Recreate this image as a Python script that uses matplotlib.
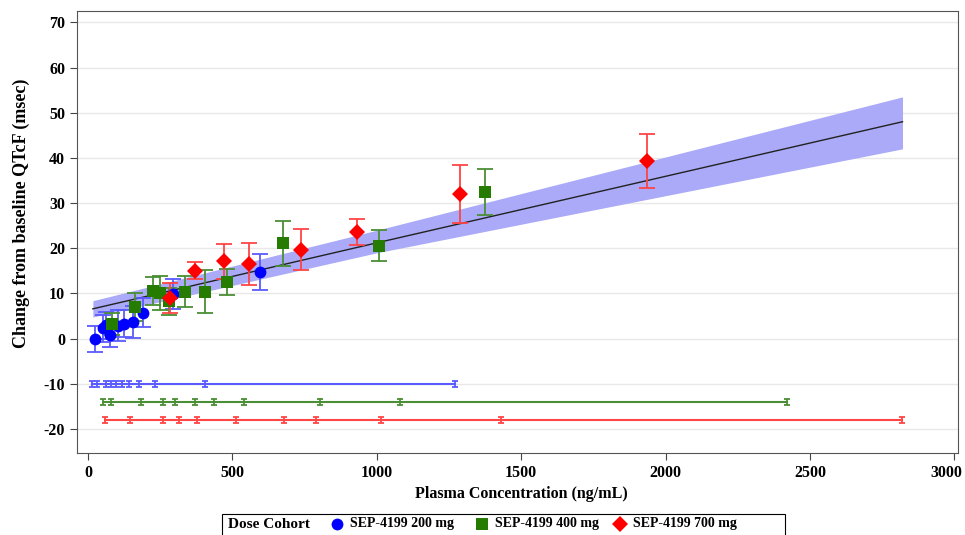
import numpy as np
import matplotlib.pyplot as plt
import matplotlib.transforms as mtransforms
from matplotlib.lines import Line2D
from matplotlib.patches import Rectangle

plt.rcParams['font.family'] = ['Liberation Serif', 'DejaVu Serif']
plt.rcParams['font.weight'] = 'bold'
plt.rcParams['axes.unicode_minus'] = False

# binned means (conc, change) with half-width of 90% CI
conc_200 = [24, 52, 62, 76, 105, 126, 155, 189, 293, 595]
qtcf_200 = [-0.1, 2.3, 3.0, 0.9, 2.9, 3.3, 3.7, 5.7, 9.9, 14.7]
err_200 = [2.8, 3.0, 3.0, 2.8, 3.5, 3.0, 3.5, 3.2, 3.3, 4.0]

conc_400 = [84, 163, 226, 248, 281, 336, 405, 481, 674, 1008, 1374]
qtcf_400 = [3.2, 7.0, 10.6, 10.1, 8.3, 10.4, 10.4, 12.6, 21.1, 20.6, 32.5]
err_400 = [2.5, 3.0, 3.1, 3.7, 3.0, 3.5, 4.8, 2.9, 5.0, 3.5, 5.1]

conc_700 = [284, 370, 472, 558, 739, 933, 1289, 1935]
qtcf_700 = [9.0, 15.0, 17.1, 16.5, 19.7, 23.6, 32.1, 39.3]
err_700 = [3.4, 1.9, 3.8, 4.6, 4.5, 2.8, 6.4, 5.9]

# concentration bin boundaries per cohort
bins_200 = [15, 31, 63, 80, 98, 117, 141, 175, 233, 405, 1270]
bins_400 = [51, 78, 185, 258, 303, 370, 436, 541, 803, 1080, 2420]
bins_700 = [59, 145, 260, 315, 379, 514, 680, 788, 1013, 1429, 2820]
bin_levels = [-10, -14, -18]

# linear exposure-response fit and its confidence band
fit_conc = [17, 1000, 2820]
fit_mid = [6.6, 21.2, 48.0]
fit_lo = [4.8, 19.0, 42.0]
fit_hi = [8.4, 24.0, 53.5]

labels = ["SEP-4199 200 mg", "SEP-4199 400 mg", "SEP-4199 700 mg"]
colors = ["#0000ff", "#267c00", "#ff0000"]
bar_colors = ["#5a5aff", "#4a8f35", "#ff4545"]
markers = ["o", "s", "D"]
msizes = [8.5, 8, 8.5]

fig = plt.figure(figsize=(9.65, 5.35), dpi=100)
ax = fig.add_axes([0.0798, 0.1533, 0.9129, 0.8261])

ax.fill_between(fit_conc, fit_lo, fit_hi, color="#aaaaf8", lw=0, zorder=1)
ax.plot(fit_conc, fit_mid, color="#222222", lw=1, zorder=2)

groups = [
    (conc_200, qtcf_200, err_200),
    (conc_400, qtcf_400, err_400),
    (conc_700, qtcf_700, err_700),
]
for (x, y, e), c, bc, m, ms in zip(groups, colors, bar_colors, markers, msizes):
    ax.errorbar(x, y, yerr=e, fmt="none", ecolor=bc, elinewidth=1.3,
                capsize=5.5, capthick=1.3, zorder=3)
    ax.plot(x, y, linestyle="none", marker=m, color=c, markersize=ms,
            markeredgewidth=0, zorder=4)

for b, lvl, bc in zip([bins_200, bins_400, bins_700], bin_levels, bar_colors):
    ax.plot([b[0], b[-1]], [lvl, lvl], color=bc, lw=1.5, zorder=3)
    ax.errorbar(b, [lvl] * len(b), yerr=0.7, fmt="none", ecolor=bc,
                elinewidth=1.3, capsize=2.2, capthick=1.3, zorder=3)

ax.set_xlim(-38, 3012)
ax.set_ylim(-25.3, 72.5)
ax.set_xticks(np.arange(0, 3001, 500))
ax.set_yticks(np.arange(-20, 71, 10))
ax.yaxis.grid(True, color="#e8e8e8", lw=1)
ax.set_axisbelow(True)
ax.tick_params(labelsize=11.5, length=5, color="#444444")
for s in ax.spines.values():
    s.set_color("#555555")

# keep the last x tick label inside the figure
last = ax.get_xticklabels()[-1]
last.set_transform(last.get_transform() +
                   mtransforms.ScaledTranslation(-8 / 100, 0, fig.dpi_scale_trans))

ax.set_xlabel("Plasma Concentration (ng/mL)", fontsize=11.5, fontweight="bold")
ax.set_ylabel("Change from baseline QTcF (msec)", fontsize=13, fontweight="bold")
ax.xaxis.set_label_coords(0.504, -0.075)
ax.yaxis.set_label_coords(-0.053, 0.543)

# legend strip along the bottom edge
W, H = 965, 535
fig.add_artist(Rectangle((222 / W, -0.02), 563 / W, 0.02 + (H - 514) / H,
                         transform=fig.transFigure, fill=False,
                         edgecolor="black", lw=0.8))
ty = 1 - 524 / H
fig.text(228 / W, ty, "Dose Cohort", fontsize=11, fontweight="bold",
         ha="left", va="center")
for mx, c, m, ms, lab in zip([337, 482, 620], colors, markers, msizes, labels):
    fig.add_artist(Line2D([mx / W], [ty], transform=fig.transFigure,
                          linestyle="none", marker=m, color=c,
                          markersize=ms, markeredgewidth=0))
    fig.text((mx + 13) / W, ty, lab, fontsize=10, fontweight="bold",
             ha="left", va="center")

fig.savefig("out.png", dpi=100)
